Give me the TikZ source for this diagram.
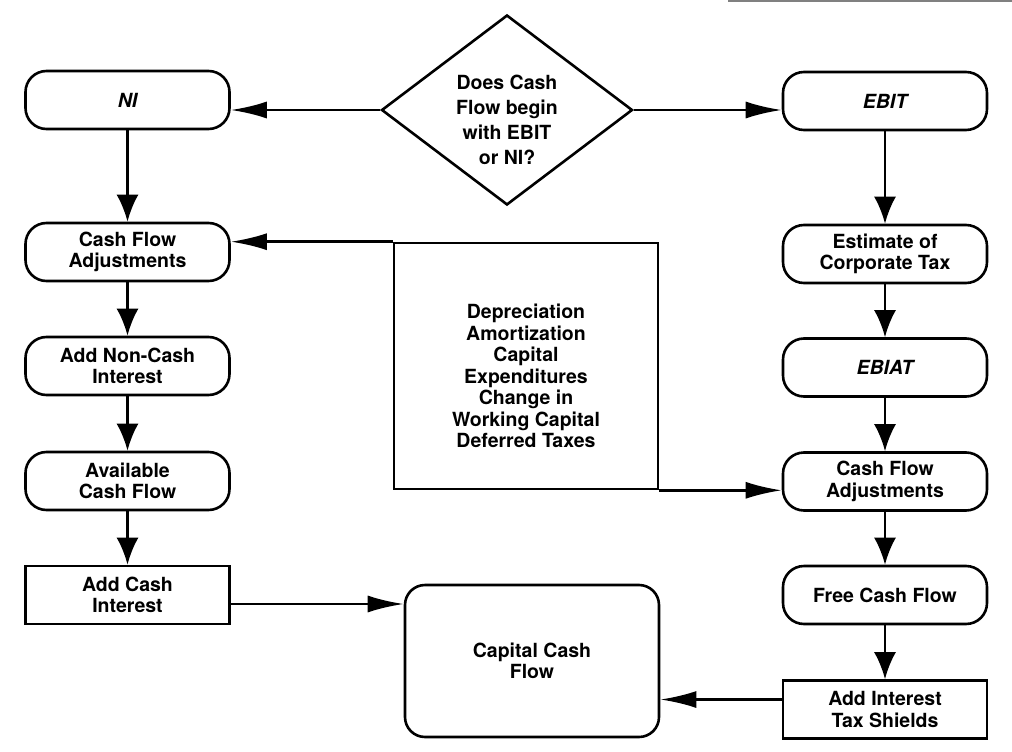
\documentclass[tikz,border=0pt]{standalone}
\usetikzlibrary{shapes, arrows.meta, positioning}
\usepackage{fontspec}
\setmainfont{TeX Gyre Heros}

\begin{document}
\begin{tikzpicture}[x=1pt, y=-1pt, line width=2.6pt,
    every node/.style={draw, align=center, inner sep=0pt, font=\bfseries\fontsize{19.5}{21.5}\selectfont},
    pill/.style={rounded corners=21pt, minimum width=204pt, minimum height=58pt},
    plain/.style={minimum width=204pt, minimum height=58pt},
    down/.style={-{Latex[length=27pt, width=22pt]}},
    side/.style={-{Latex[length=36pt, width=17pt]}}]
      \useasboundingbox (0, 0) rectangle (1012, 752);
      \draw[gray, line width=2pt] (728, 1) -- (1012, 1);
      \node[diamond, minimum width=251pt, minimum height=190pt,
            label={[draw=none, yshift=-10pt, font=\bfseries\fontsize{19.5}{25}\selectfont]center:{Does Cash\\Flow begin\\with EBIT\\or NI?}}] (a) at (507, 110) {};
      \node[pill] (b) at (127.5, 100) {\itshape NI};
      \node[pill] (c) at (127.5, 252) {Cash Flow\\Adjustments};
      \node[pill] (d) at (127.5, 366) {Add Non-Cash\\Interest};
      \node[pill] (f) at (127.5, 481) {Available\\Cash Flow};
      \node[plain] (g) at (127.5, 595) {Add Cash\\Interest};
      \node[pill] (h) at (885, 101) {\itshape EBIT};
      \node[pill] (i) at (885, 254) {Estimate of\\Corporate Tax};
      \node[pill] (j) at (885, 367.5) {\itshape EBIAT};
      \node[pill] (k) at (885, 481.5) {Cash Flow\\Adjustments};
      \node[pill] (l) at (885, 595) {Free Cash Flow};
      \node[plain] (m) at (885, 709.5) {Add Interest\\Tax Shields};
      \node[minimum width=264pt, minimum height=246pt,
            label={[draw=none, yshift=-10pt]center:{Depreciation\\Amortization\\Capital\\Expenditures\\Change in\\Working Capital\\Deferred Taxes}}] (n) at (526, 366) {};
      \node[rounded corners=20pt, minimum width=254pt, minimum height=152pt] (o) at (532, 661) {Capital Cash\\Flow};
      \draw[side] (a.west) -- (a.west -| b.east);
      \draw[side] (a.east) -- (a.east -| h.west);
      \draw[down] (b) -- (c);
      \draw[down] (c) -- (d);
      \draw[down] (d) -- (f);
      \draw[down] (f) -- (g);
      \draw[down] (h) -- (i);
      \draw[down] (i) -- (j);
      \draw[down] (j) -- (k);
      \draw[down] (k) -- (l);
      \draw[down] (l) -- (m);
      \draw[side] (n.north west) -- (n.north west -| c.east);
      \draw[side] (n.south east) -- (n.south east -| k.west);
      \draw[side] ([yshift=-9pt]g.east) -- ([yshift=-9pt]g.east -| o.west);
      \draw[side] ([yshift=10pt]m.west) -- ([yshift=10pt]m.west -| o.east);
    \end{tikzpicture}
\end{document}
